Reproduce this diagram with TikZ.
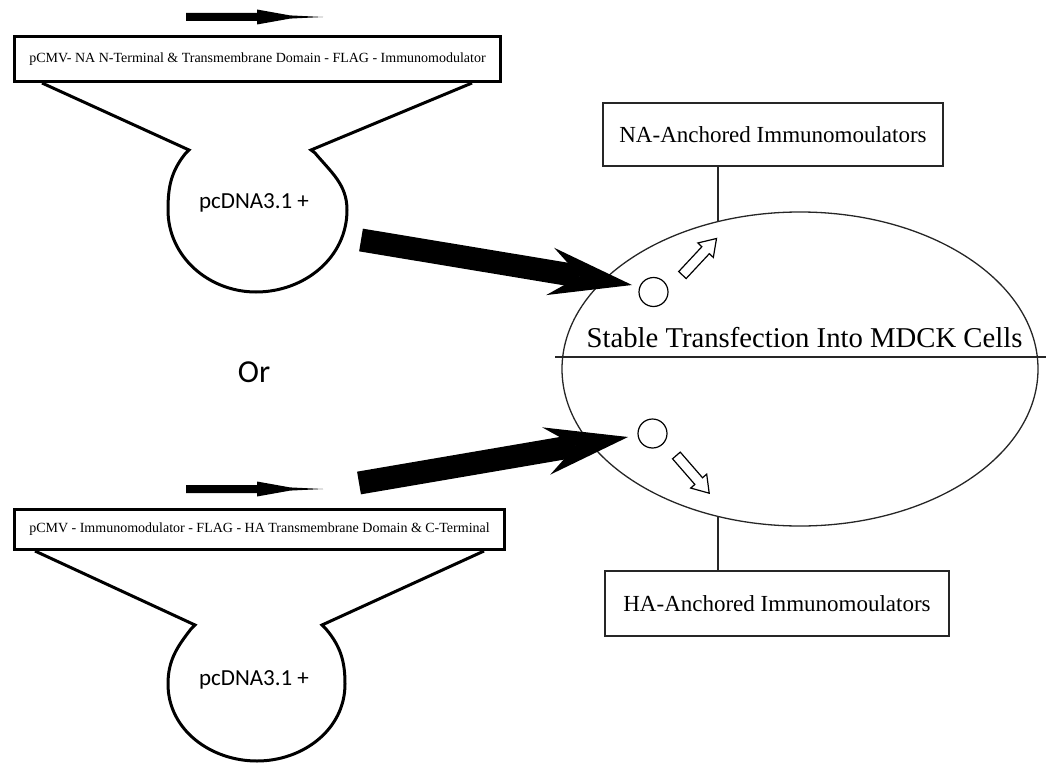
\documentclass[tikz,border=0pt]{standalone}
\usepackage{fontspec}
\setmainfont{Liberation Serif}
\newfontfamily\plasmidfont{Carlito}
\usetikzlibrary{calc,arrows.meta,shapes.geometric,shapes.arrows}

\tikzset{
    cassette/.style={draw, line width=3pt, inner sep=0pt, font=\fontsize{14}{16}\selectfont},
    plasmid/.style={line width=3pt, line join=miter},
    product/.style={draw, draw=black!85, line width=1.3pt, inner sep=0pt,
        minimum width=340pt, minimum height=63pt, font=\fontsize{23}{26}\selectfont},
    thinlink/.style={draw=black!85, line width=1.3pt},
    transfer/.style={line width=23pt, -{Stealth[length=83pt, width=48pt, inset=30pt, line width=0pt]}},
    secretion/.style={single arrow, draw, line width=1.2pt, inner xsep=0pt, inner ysep=4.5pt,
        single arrow head extend=5.5pt, single arrow tip angle=67, minimum height=50pt, anchor=tail},
    vesicle/.style={draw, circle, line width=1.2pt, minimum size=29pt, inner sep=0pt},
    promoter/.pic={
        \fill (0,4) -- (71,4) -- (71,7.5) -- (104,1.6) -- (137,0) -- (104,-1.6) -- (71,-7.5) -- (71,-4) -- (0,-4) -- cycle;
    }
}

\begin{document}
\begin{tikzpicture}[x=1pt, y=1pt]

            \useasboundingbox (0,0) rectangle (1046,-765);

            % NA construct
            \pic at (186,-17) {promoter};
            \node (boxNA) [cassette, minimum width=486pt, minimum height=45pt] at (257.5,-59)
                {pCMV- NA N-Terminal \& Transmembrane Domain - FLAG - Immunomodulator};
            \draw[plasmid] ($(boxNA.south west)+(29,0)$) -- (189,-150) -- (185,-154)
                to[out=-128,in=90] (168,-210) to[out=-90,in=180] (256,-292)
                to[out=0,in=-90] (347,-210) to[out=90,in=-50] (315,-153)
                -- (311,-150) -- ($(boxNA.south east)+(-30,0)$);
            \node (vecNA) [font=\plasmidfont\fontsize{23}{26}\selectfont] at (254,-203) {pcDNA3.1 +};

            \node (or) [font=\plasmidfont\fontsize{32}{36}\selectfont] at (254,-372) {Or};

            % HA construct
            \pic at (186,-489) {promoter};
            \node (boxHA) [cassette, minimum width=490pt, minimum height=40pt] at (259.5,-529.5)
                {pCMV - Immunomodulator - FLAG - HA Transmembrane Domain \& C-Terminal};
            \draw[plasmid] ($(boxHA.south west)+(22,0)$) -- (195,-625) -- (191,-629)
                to[out=-128,in=90] (168,-684) to[out=-90,in=180] (257,-761)
                to[out=0,in=-90] (345,-684) to[out=90,in=-50] (326,-629)
                -- (322,-625) -- ($(boxHA.south east)+(-22,0)$);
            \node (vecHA) [font=\plasmidfont\fontsize{23}{26}\selectfont] at (254,-680) {pcDNA3.1 +};

            % MDCK cell
            \node (cell) [draw, draw=black!85, ellipse, line width=1.3pt, minimum width=476pt,
                minimum height=314pt, inner sep=0pt] at (800,-369) {};
            \coordinate (divL) at (555,-357);
            \coordinate (divR) at (1046,-357);
            \draw[thinlink] (divL) -- (divR);
            \node (stable) [anchor=base, font=\fontsize{28.7}{32}\selectfont] at (804.5,-347)
                {Stable Transfection Into MDCK Cells};

            \node (vesNA) [vesicle] at (653.5,-292) {};
            \node (vesHA) [vesicle] at (652.5,-433.5) {};
            \node (outNA) [secretion, rotate=47] at (682,-275.5) {};
            \node (outHA) [secretion, rotate=-49] at (676,-455) {};

            \coordinate (tailNA) at (361,-240);
            \coordinate (tipNA) at (632,-285);
            \coordinate (tailHA) at (359,-483);
            \coordinate (tipHA) at (628,-437);
            \draw[transfer] (tailNA) -- (tipNA);
            \draw[transfer] (tailHA) -- (tipHA);

            % anchored products
            \node (prodNA) [product] at (773,-134.5) {NA-Anchored Immunomoulators};
            \node (prodHA) [product, minimum width=344pt, minimum height=65pt] at (777,-603.5)
                {HA-Anchored Immunomoulators};
            \draw[thinlink] (cell.119.5) -- (cell.119.5 |- prodNA.south);
            \draw[thinlink] (cell.-119.5) -- (cell.-119.5 |- prodHA.north);

\end{tikzpicture}
\end{document}
